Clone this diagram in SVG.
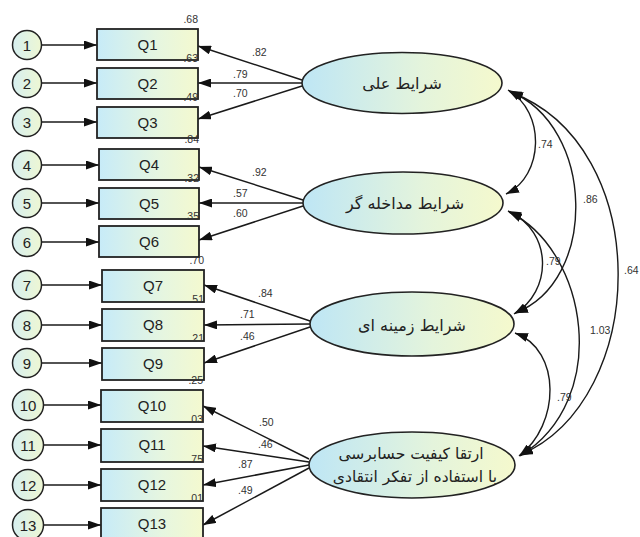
<svg xmlns="http://www.w3.org/2000/svg" width="640" height="537" viewBox="0 0 640 537">
<defs>
<linearGradient id="gBox" x1="0" y1="0" x2="1" y2="0">
<stop offset="0" stop-color="#c7ebf8"/>
<stop offset="0.6" stop-color="#e6f6e0"/>
<stop offset="1" stop-color="#f4f9cf"/>
</linearGradient>
<linearGradient id="gEll" x1="0" y1="0" x2="1" y2="0">
<stop offset="0" stop-color="#bee6f5"/>
<stop offset="0.6" stop-color="#e4f4dc"/>
<stop offset="1" stop-color="#f5f9cd"/>
</linearGradient>
<linearGradient id="gCir" x1="0" y1="0" x2="1" y2="0">
<stop offset="0" stop-color="#d6eff0"/>
<stop offset="1" stop-color="#eef7d3"/>
</linearGradient>
<marker id="ah" markerUnits="userSpaceOnUse" markerWidth="13" markerHeight="9" refX="13" refY="4.5" orient="auto-start-reverse">
<path d="M0,0 L13,4.5 L0,9 z" fill="#111"/>
</marker>
</defs>
<style>
.box{fill:url(#gBox);stroke:#222;stroke-width:1.8}
.ell{fill:url(#gEll);stroke:#222;stroke-width:1.6}
.cir{fill:url(#gCir);stroke:#222;stroke-width:1.5}
.ln{fill:none;stroke:#1a1a1a;stroke-width:1.5;marker-end:url(#ah)}
.cv{fill:none;stroke:#1a1a1a;stroke-width:1.4;marker-start:url(#ah);marker-end:url(#ah)}
.lab{font-family:"Liberation Sans",Arial,sans-serif;font-size:15px;fill:#222;text-anchor:middle}
.num{font-family:"Liberation Sans",Arial,sans-serif;font-size:10.5px;fill:#333}
.r2{font-family:"Liberation Sans",Arial,sans-serif;font-size:10.5px;fill:#333;text-anchor:end}
.fa{font-family:"DejaVu Sans","Noto Sans",sans-serif;font-size:16px;fill:#222;text-anchor:middle}
.fa2{font-family:"DejaVu Sans","Noto Sans",sans-serif;font-size:15.5px;fill:#222;text-anchor:middle}
</style>

<g id="connectors">
<!-- error to indicator -->
<line class="ln" x1="41.5" y1="45" x2="97" y2="45"/>
<line class="ln" x1="41.5" y1="83" x2="97" y2="83"/>
<line class="ln" x1="41.5" y1="122" x2="97" y2="122"/>
<line class="ln" x1="41.5" y1="165" x2="99" y2="165"/>
<line class="ln" x1="41.5" y1="203" x2="99" y2="203"/>
<line class="ln" x1="41.5" y1="242" x2="99" y2="242"/>
<line class="ln" x1="41.5" y1="285" x2="102" y2="285"/>
<line class="ln" x1="41.5" y1="325" x2="102" y2="325"/>
<line class="ln" x1="41.5" y1="363" x2="102" y2="363"/>
<line class="ln" x1="43.5" y1="405" x2="101" y2="405"/>
<line class="ln" x1="43.5" y1="445" x2="101" y2="445"/>
<line class="ln" x1="43.5" y1="485" x2="101" y2="485"/>
<line class="ln" x1="43.5" y1="525" x2="101" y2="525"/>
<!-- loadings -->
<line class="ln" x1="302" y1="80" x2="198" y2="46"/>
<line class="ln" x1="302" y1="83" x2="198" y2="83"/>
<line class="ln" x1="302" y1="86" x2="198" y2="119"/>
<line class="ln" x1="303" y1="200" x2="199" y2="167"/>
<line class="ln" x1="303" y1="203" x2="199" y2="203"/>
<line class="ln" x1="303" y1="206" x2="199" y2="240"/>
<line class="ln" x1="310" y1="321" x2="204" y2="285"/>
<line class="ln" x1="310" y1="324" x2="204" y2="325"/>
<line class="ln" x1="310" y1="327" x2="204" y2="363"/>
<line class="ln" x1="309" y1="459" x2="203" y2="406"/>
<line class="ln" x1="309" y1="462" x2="203" y2="446"/>
<line class="ln" x1="309" y1="465" x2="203" y2="485"/>
<line class="ln" x1="309" y1="468" x2="203" y2="525"/>
<!-- covariances -->
<path class="cv" d="M508,90 C546,112 544,176 506,194"/>
<path class="cv" d="M509,91 C596,126 598,282 515,313"/>
<path class="cv" d="M510,92 C655,145 650,400 520,455"/>
<path class="cv" d="M508,211 C554,232 552,292 514,314"/>
<path class="cv" d="M509,212 C588,250 612,400 520,456"/>
<path class="cv" d="M515,333 C562,350 560,425 519,456"/>
<!-- loading labels -->
<text class="num" x="252" y="56">.82</text>
<text class="num" x="233" y="78">.79</text>
<text class="num" x="233" y="97">.70</text>
<text class="num" x="252" y="176">.92</text>
<text class="num" x="233" y="197">.57</text>
<text class="num" x="233" y="217">.60</text>
<text class="num" x="258" y="297">.84</text>
<text class="num" x="240" y="318">.71</text>
<text class="num" x="240" y="340">.46</text>
<text class="num" x="259" y="426">.50</text>
<text class="num" x="258" y="448">.46</text>
<text class="num" x="238" y="468">.87</text>
<text class="num" x="238" y="494">.49</text>
<!-- covariance labels -->
<text class="num" x="538" y="148">.74</text>
<text class="num" x="583" y="203">.86</text>
<text class="num" x="624" y="274">.64</text>
<text class="num" x="546" y="265">.79</text>
<text class="num" x="590" y="334">1.03</text>
<text class="num" x="557" y="401">.79</text>
</g>

<g id="e1"><circle class="cir" cx="27" cy="45" r="14.5"/><text class="lab" x="27" y="50.5">1</text></g>
<g id="e2"><circle class="cir" cx="27" cy="83" r="14.5"/><text class="lab" x="27" y="88.5">2</text></g>
<g id="e3"><circle class="cir" cx="27" cy="122" r="14.5"/><text class="lab" x="27" y="127.5">3</text></g>
<g id="e4"><circle class="cir" cx="27" cy="165" r="14.5"/><text class="lab" x="27" y="170.5">4</text></g>
<g id="e5"><circle class="cir" cx="27" cy="203" r="14.5"/><text class="lab" x="27" y="208.5">5</text></g>
<g id="e6"><circle class="cir" cx="27" cy="242" r="14.5"/><text class="lab" x="27" y="247.5">6</text></g>
<g id="e7"><circle class="cir" cx="27" cy="285" r="14.5"/><text class="lab" x="27" y="290.5">7</text></g>
<g id="e8"><circle class="cir" cx="27" cy="325" r="14.5"/><text class="lab" x="27" y="330.5">8</text></g>
<g id="e9"><circle class="cir" cx="27" cy="363" r="14.5"/><text class="lab" x="27" y="368.5">9</text></g>
<g id="e10"><circle class="cir" cx="28" cy="405" r="15.5"/><text class="lab" x="28" y="410.5">10</text></g>
<g id="e11"><circle class="cir" cx="28" cy="445" r="15.5"/><text class="lab" x="28" y="450.5">11</text></g>
<g id="e12"><circle class="cir" cx="28" cy="485" r="15.5"/><text class="lab" x="28" y="490.5">12</text></g>
<g id="e13"><circle class="cir" cx="28" cy="525" r="15.5"/><text class="lab" x="28" y="530.5">13</text></g>

<g id="Q1"><rect class="box" x="97" y="29" width="101" height="31"/><text class="lab" x="147.5" y="50">Q1</text><text class="r2" x="198" y="23">.68</text></g>
<g id="Q2"><rect class="box" x="97" y="68" width="101" height="31"/><text class="lab" x="147.5" y="89">Q2</text><text class="r2" x="198" y="61.5">.63</text></g>
<g id="Q3"><rect class="box" x="97" y="107" width="101" height="31"/><text class="lab" x="147.5" y="128">Q3</text><text class="r2" x="198" y="100.5">.49</text></g>
<g id="Q4"><rect class="box" x="99" y="149" width="100" height="31"/><text class="lab" x="149" y="170">Q4</text><text class="r2" x="199" y="142.5">.84</text></g>
<g id="Q5"><rect class="box" x="99" y="188" width="100" height="31"/><text class="lab" x="149" y="209">Q5</text><text class="r2" x="199" y="181.5">.32</text></g>
<g id="Q6"><rect class="box" x="99" y="226" width="100" height="31"/><text class="lab" x="149" y="247">Q6</text><text class="r2" x="199" y="219.5">.35</text></g>
<g id="Q7"><rect class="box" x="102" y="270" width="102" height="32"/><text class="lab" x="153" y="291">Q7</text><text class="r2" x="204" y="263.5">.70</text></g>
<g id="Q8"><rect class="box" x="102" y="309" width="102" height="32"/><text class="lab" x="153" y="330">Q8</text><text class="r2" x="204" y="302.5">.51</text></g>
<g id="Q9"><rect class="box" x="102" y="348" width="102" height="32"/><text class="lab" x="153" y="369">Q9</text><text class="r2" x="204" y="341.5">.21</text></g>
<g id="Q10"><rect class="box" x="101" y="390" width="102" height="32"/><text class="lab" x="152" y="411">Q10</text><text class="r2" x="203" y="383.5">.25</text></g>
<g id="Q11"><rect class="box" x="101" y="429" width="102" height="33"/><text class="lab" x="152" y="450">Q11</text><text class="r2" x="203" y="422.5">.03</text></g>
<g id="Q12"><rect class="box" x="101" y="469" width="102" height="32"/><text class="lab" x="152" y="490">Q12</text><text class="r2" x="203" y="462.5">.75</text></g>
<g id="Q13"><rect class="box" x="101" y="508" width="102" height="32"/><text class="lab" x="152" y="529">Q13</text><text class="r2" x="203" y="501.5">.01</text></g>

<g id="F1"><ellipse class="ell" cx="402" cy="83" rx="100" ry="30.5"/><text class="fa" x="402" y="89">شرایط علی</text></g>
<g id="F2"><ellipse class="ell" cx="403" cy="203" rx="100" ry="31"/><text class="fa" x="405" y="209">شرایط مداخله گر</text></g>
<g id="F3"><ellipse class="ell" cx="412" cy="324" rx="102" ry="32"/><text class="fa" x="412" y="331">شرایط  زمینه ای</text></g>
<g id="F4"><ellipse class="ell" cx="412" cy="465" rx="103" ry="33"/><text class="fa2" x="411" y="459">ارتقا کیفیت حسابرسی</text><text class="fa2" x="415" y="482">با استفاده از تفکر انتقادی</text></g>
</svg>
